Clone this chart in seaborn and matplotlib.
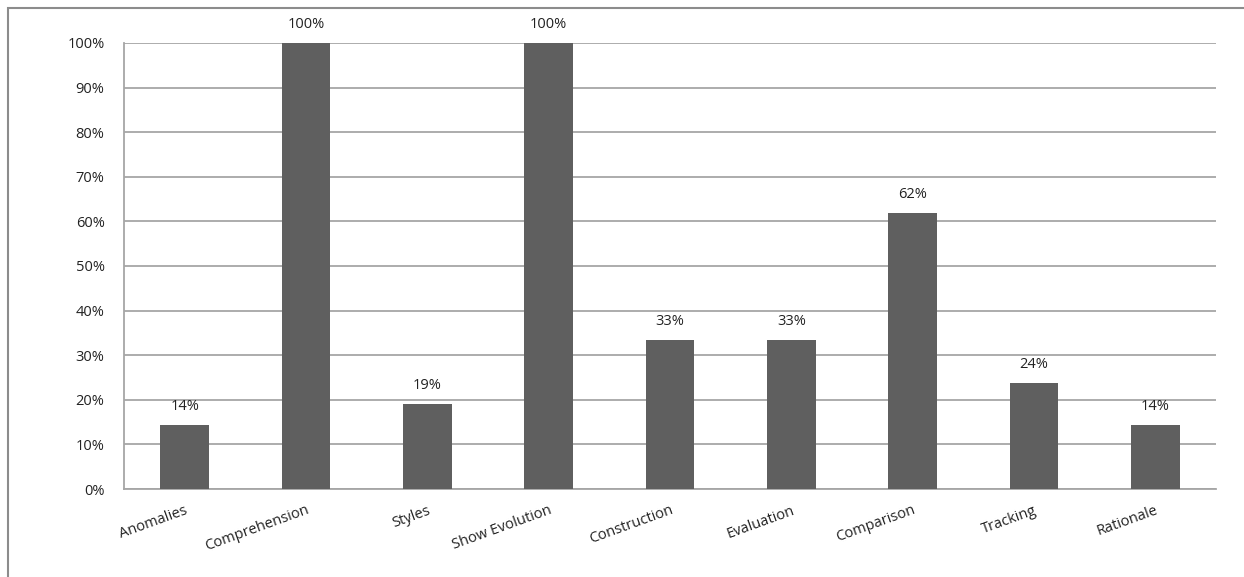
import matplotlib
matplotlib.use("Agg")
import matplotlib.pyplot as plt
import seaborn as sns
import pandas as pd
from matplotlib.patches import Rectangle
from matplotlib.ticker import PercentFormatter

categories = ["Anomalies", "Comprehension", "Styles", "Show Evolution", "Construction",
              "Evaluation", "Comparison", "Tracking", "Rationale"]
values = [14.3, 100, 19.0, 100, 33.3, 33.3, 61.9, 23.8, 14.3]
bar_labels = ["14%", "100%", "19%", "100%", "33%", "33%", "62%", "24%", "14%"]

df = pd.DataFrame({"category": categories, "value": values})

sns.set_style("white")
plt.rcParams["font.family"] = ["Open Sans", "DejaVu Sans"]

fig = plt.figure(figsize=(12.44, 5.77), dpi=100)
ax = fig.add_axes([0.0997, 0.1525, 0.8778, 0.773])

sns.barplot(data=df, x="category", y="value", color="#5f5f5f", width=0.4,
            saturation=1, linewidth=0, ax=ax, zorder=3)

ax.set_ylim(0, 100)
ax.set_xlim(-0.5, len(categories) - 0.5)
ax.set_yticks(range(0, 101, 10))
ax.yaxis.set_major_formatter(PercentFormatter(decimals=0))
ax.grid(axis="y", color="#a6a6a6", linewidth=1.3, zorder=0)
ax.set_xlabel("")
ax.set_ylabel("")

for side in ["top", "right"]:
    ax.spines[side].set_visible(False)
for side in ["left", "bottom"]:
    ax.spines[side].set_color("#a6a6a6")
    ax.spines[side].set_linewidth(1.3)

ax.tick_params(axis="both", length=0, labelsize=10.5, colors="#222222")
ax.tick_params(axis="y", pad=14)
ax.tick_params(axis="x", pad=10)
for lbl in ax.get_xticklabels():
    lbl.set_rotation(20)
    lbl.set_ha("right")
    lbl.set_rotation_mode("anchor")

for container in ax.containers:
    ax.bar_label(container, labels=bar_labels, padding=8, fontsize=10.5, color="#222222")

# outer chart border
fig.patches.append(Rectangle((8 / 1244, -0.1), 1.2, 1.1 - 8 / 577,
                             transform=fig.transFigure, fill=False,
                             edgecolor="#8c8c8c", linewidth=1.5))

fig.savefig("out.png", dpi=100)
